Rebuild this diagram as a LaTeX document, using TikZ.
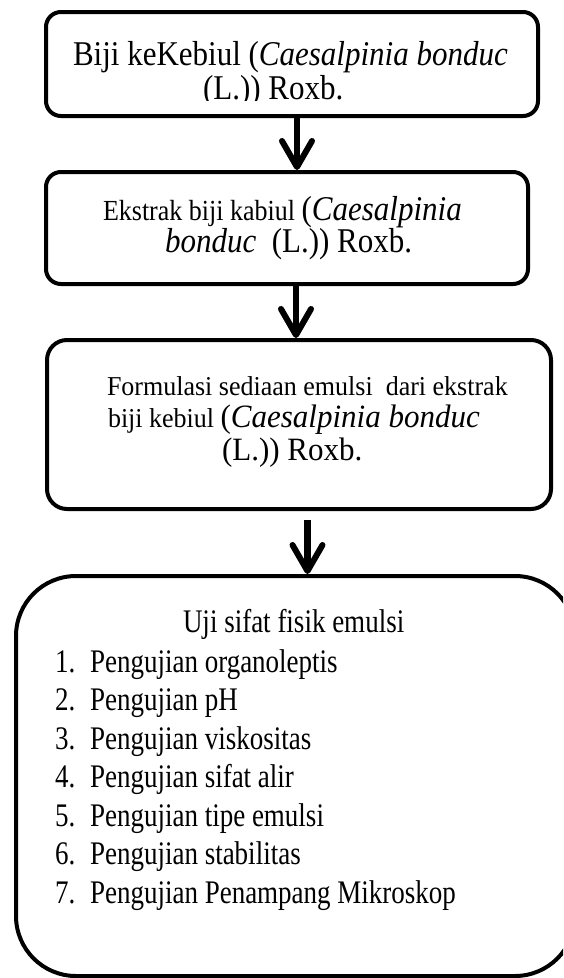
\documentclass[tikz,border=0pt]{standalone}
\usepackage{fontspec}
\setmainfont{Liberation Serif}
\usepackage{graphicx}
\usetikzlibrary{arrows.meta,calc}
\newcommand{\sz}[2]{{\fontsize{#1}{#1}\selectfont #2}}
\newcommand{\vstr}[2]{\scalebox{1}[#1]{#2}}
\begin{document}
\begin{tikzpicture}[x=1pt,y=-1pt,
  box/.style={draw, line width=4pt, rounded corners=15pt, inner sep=0pt},
  flow/.style={line width=6.5pt, -{Straight Barb[length=26pt,width=30pt,line width=6pt,round]}},
  txt/.style={anchor=base west, inner sep=0pt, outer sep=0pt},
]
\clip (0,0) rectangle (563,978);
\fill[white] (0,0) rectangle (563,978);

% boxes
\node[box, minimum width=492pt, minimum height=104pt] (b1) at (292,64) {};
\node[box, minimum width=482pt, minimum height=112pt] (b2) at (287,228) {};
\node[box, rounded corners=20pt, minimum width=504pt, minimum height=169pt] (b3) at (299,424.5) {};
\node[box, rounded corners=60pt, minimum width=559pt, minimum height=400pt] (b4) at (295.5,776) {};

% connectors
\draw[flow] ([xshift=5pt]b1.south) -- ([xshift=5pt]b1.south |- b2.north);
\draw[flow] ([xshift=9pt]b2.south) -- ([xshift=9pt]b2.south |- b3.north);
\draw[flow, shorten <=9pt] ([xshift=8.5pt]b3.south) -- ([xshift=8.5pt]b3.south |- b4.north);

% box 1 text
\node[txt] (t1a) at (73,65) {\vstr{1.12}{\sz{31}{Biji keKebiul (\textit{Caesalpinia bonduc}}}};
\begin{scope}
\clip (46,12) rectangle (538,100);
\node[txt] (t1b) at (203,99) {\vstr{1.12}{\sz{31}{(L.)) Roxb.}}};
\end{scope}

% box 2 text
\node[txt] (t2a) at (103,220) {\vstr{1.12}{\sz{26}{Ekstrak biji kabiul }\sz{31}{(\textit{Caesalpinia}}}};
\node[txt] (t2b) at (165,252) {\vstr{1.12}{\sz{31}{\textit{bonduc}\ \ (L.)) Roxb.}}};

% box 3 text
\node[txt] (t3a) at (107,395) {\vstr{1.05}{\sz{26}{Formulasi sediaan emulsi\ \ dari ekstrak}}};
\node[txt] (t3b) at (108,427) {\vstr{1.05}{\sz{26}{biji kebiul }\sz{31}{(\textit{Caesalpinia bonduc}}}};
\node[txt] (t3c) at (222,460) {\vstr{1.05}{\sz{31}{(L.)) Roxb.}}};

% box 4 text
\node[txt] (t4) at (183,632) {\vstr{1.22}{\sz{27}{Uji sifat fisik emulsi}}};
\foreach \k/\s in {1/Pengujian organoleptis, 2/Pengujian pH, 3/Pengujian viskositas,
  4/Pengujian sifat alir, 5/Pengujian tipe emulsi, 6/Pengujian stabilitas,
  7/Pengujian Penampang Mikroskop}{
  \node[txt] (n\k) at (55,{672+38.5*(\k-1)}) {\vstr{1.22}{\sz{27}{\k.}}};
  \node[txt] (i\k) at (90,{672+38.5*(\k-1)}) {\vstr{1.22}{\sz{27}{\s}}};
}
\end{tikzpicture}
\end{document}
